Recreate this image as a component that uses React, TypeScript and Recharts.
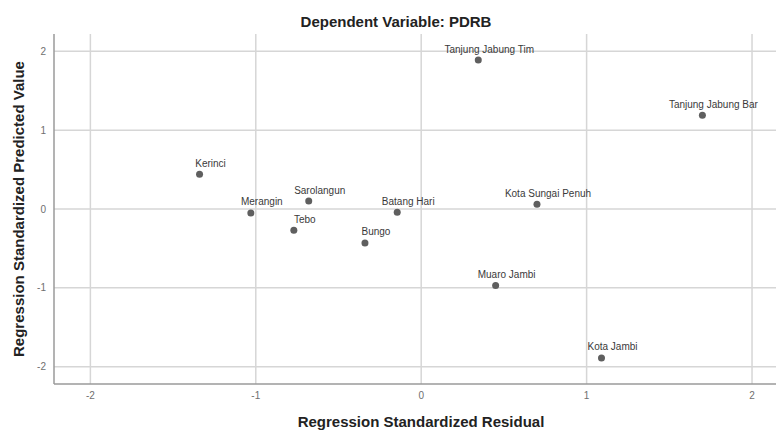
import { ScatterChart, Scatter, XAxis, YAxis, ReferenceLine, Label } from "recharts";

// regency names + standardized residual (x) / predicted value (y)
const names = [
    "Kerinci",
    "Merangin",
    "Sarolangun",
    "Tebo",
    "Bungo",
    "Batang Hari",
    "Kota Sungai Penuh",
    "Tanjung Jabung Tim",
    "Tanjung Jabung Bar",
    "Muaro Jambi",
    "Kota Jambi",
];
const residuals = [-1.34, -1.03, -0.68, -0.77, -0.34, -0.145, 0.7, 0.345, 1.7, 0.45, 1.09];
const predicted = [0.44, -0.05, 0.1, -0.27, -0.43, -0.04, 0.06, 1.89, 1.19, -0.97, -1.89];

const xTicks = [-2, -1, 0, 1, 2];
const yTicks = [-2, -1, 0, 1, 2];

const FONT = "'Liberation Sans', Arial, sans-serif";
const GRID = "#d6d6d6";

const points = names.map((name, i) => ({ name, x: residuals[i], y: predicted[i] }));

const Dot = (props: any) => {
    const { cx, cy, payload } = props;
    return (
        <g>
            <circle cx={cx} cy={cy} r={3.5} fill="#5f5f5f" />
            <text
                x={cx + 11}
                y={cy - 11}
                textAnchor="middle"
                dominantBaseline="central"
                fontSize={10}
                fill="#3a3a3a"
                fontFamily={FONT}
            >
                {payload.name}
            </text>
        </g>
    );
};

export default function App() {
    const tickStyle = { fill: "#6f6f6f", fontSize: 10, fontFamily: FONT };
    const titleStyle = { fontFamily: FONT, fontWeight: "bold", fontSize: 15, fill: "#222" };
    return (
        <div style={{ position: "absolute", left: 0, top: 0, width: 776, height: 430, background: "#fff" }}>
            <div
                style={{
                    position: "absolute",
                    top: 12,
                    left: 396,
                    transform: "translateX(-50%)",
                    fontFamily: FONT,
                    fontWeight: "bold",
                    fontSize: 15,
                    color: "#222",
                    whiteSpace: "nowrap",
                    lineHeight: "20px",
                }}
            >
                Dependent Variable: PDRB
            </div>
            <ScatterChart width={776} height={430} margin={{ top: 34, right: 0, bottom: 0, left: 0 }}>
                {/* grid drawn at the tick values only, no border box */}
                {xTicks.map((t) => (
                    <ReferenceLine key={"x" + t} x={t} stroke={GRID} strokeWidth={1.5} />
                ))}
                {yTicks.map((t) => (
                    <ReferenceLine key={"y" + t} y={t} stroke={GRID} strokeWidth={1.5} />
                ))}
                <XAxis
                    type="number"
                    dataKey="x"
                    domain={[-2.22, 2.145]}
                    ticks={xTicks}
                    allowDataOverflow
                    tickLine={false}
                    axisLine={{ stroke: "#9a9a9a", strokeWidth: 1.5 }}
                    tick={tickStyle}
                    height={46}
                >
                    <Label
                        value="Regression Standardized Residual"
                        position="center"
                        dx={6}
                        dy={15}
                        style={titleStyle}
                    />
                </XAxis>
                <YAxis
                    type="number"
                    dataKey="y"
                    domain={[-2.22, 2.22]}
                    ticks={yTicks}
                    allowDataOverflow
                    tickLine={false}
                    axisLine={{ stroke: "#9a9a9a", strokeWidth: 1.5 }}
                    tick={tickStyle}
                    width={54}
                >
                    <Label
                        value="Regression Standardized Predicted Value"
                        angle={-90}
                        position="center"
                        dx={-8}
                        style={titleStyle}
                    />
                </YAxis>
                <Scatter data={points} shape={<Dot />} isAnimationActive={false} />
            </ScatterChart>
        </div>
    );
}
